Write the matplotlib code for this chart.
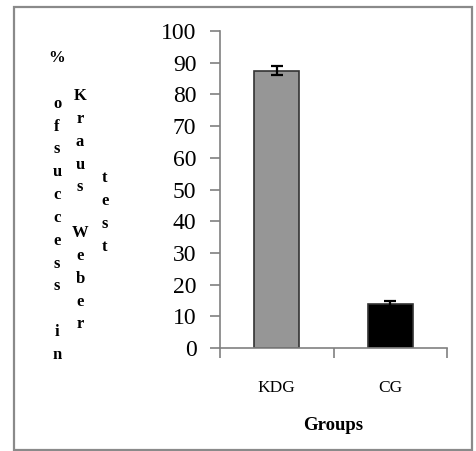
import matplotlib
matplotlib.use("Agg")
import matplotlib.pyplot as plt
from matplotlib.patches import Rectangle

categories = ["KDG", "CG"]
values = [87.5, 14.0]
errors = [1.5, 0.7]
bar_colors = ["#969696", "#000000"]
yticks = [0, 10, 20, 30, 40, 50, 60, 70, 80, 90, 100]

W, H = 476, 451
fig = plt.figure(figsize=(W / 100, H / 100), dpi=100)
fig.patch.set_facecolor("white")

ax = fig.add_axes([220 / W, 1 - 348 / H, (447 - 220) / W, (348 - 31) / H])

xpos = [0.5, 1.5]
ax.bar(xpos, values, width=0.4, color=bar_colors, edgecolor="#333333",
       linewidth=1.2, zorder=2)
ax.errorbar(xpos, values, yerr=errors, fmt="none", ecolor="black",
            elinewidth=1.6, capsize=4, capthick=1.6, zorder=3)

ax.set_xlim(0, 2)
ax.set_ylim(0, 100)
ax.set_yticks(yticks)
ax.set_yticklabels([str(t) for t in yticks], fontfamily="Liberation Serif",
                   fontsize=17)
ax.set_xticks([0, 1, 2])
ax.set_xticklabels([])
ax.set_xticks(xpos, minor=True)
ax.set_xticklabels(categories, minor=True, fontfamily="Liberation Serif",
                   fontsize=12.5)

for s in ["top", "right"]:
    ax.spines[s].set_visible(False)
for s in ["left", "bottom"]:
    ax.spines[s].set_color("#808080")
    ax.spines[s].set_linewidth(1.2)

ax.tick_params(axis="y", direction="out", length=7, width=1.2,
               color="#808080", pad=10)
ax.tick_params(axis="x", which="major", direction="out", length=7,
               width=1.2, color="#808080")
ax.tick_params(axis="x", which="minor", length=0, pad=23)

ax.set_xlabel("Groups", fontfamily="Liberation Serif", fontweight="bold",
              fontsize=13.5, labelpad=15)

# stacked vertical y-axis label (three columns)
col_font = dict(fontfamily="Liberation Serif", fontweight="bold",
                fontsize=12, ha="center", va="top", linespacing=1.57)
fig.text(57 / W, 1 - 50 / H, "%\n\no\nf\ns\nu\nc\nc\ne\ns\ns\n\ni\nn",
         **col_font)
fig.text(80 / W, 1 - 88 / H, "K\nr\na\nu\ns\n\nW\ne\nb\ne\nr", **col_font)
fig.text(105 / W, 1 - 170 / H, "t\ne\ns\nt", **col_font)

# outer frame
fig.patches.append(Rectangle((14 / W, 1 - 450 / H), (472 - 14) / W,
                             (450 - 7) / H, transform=fig.transFigure,
                             fill=False, edgecolor="#8a8a8a", linewidth=1.6))

fig.savefig("out.png", dpi=100, facecolor="white")
